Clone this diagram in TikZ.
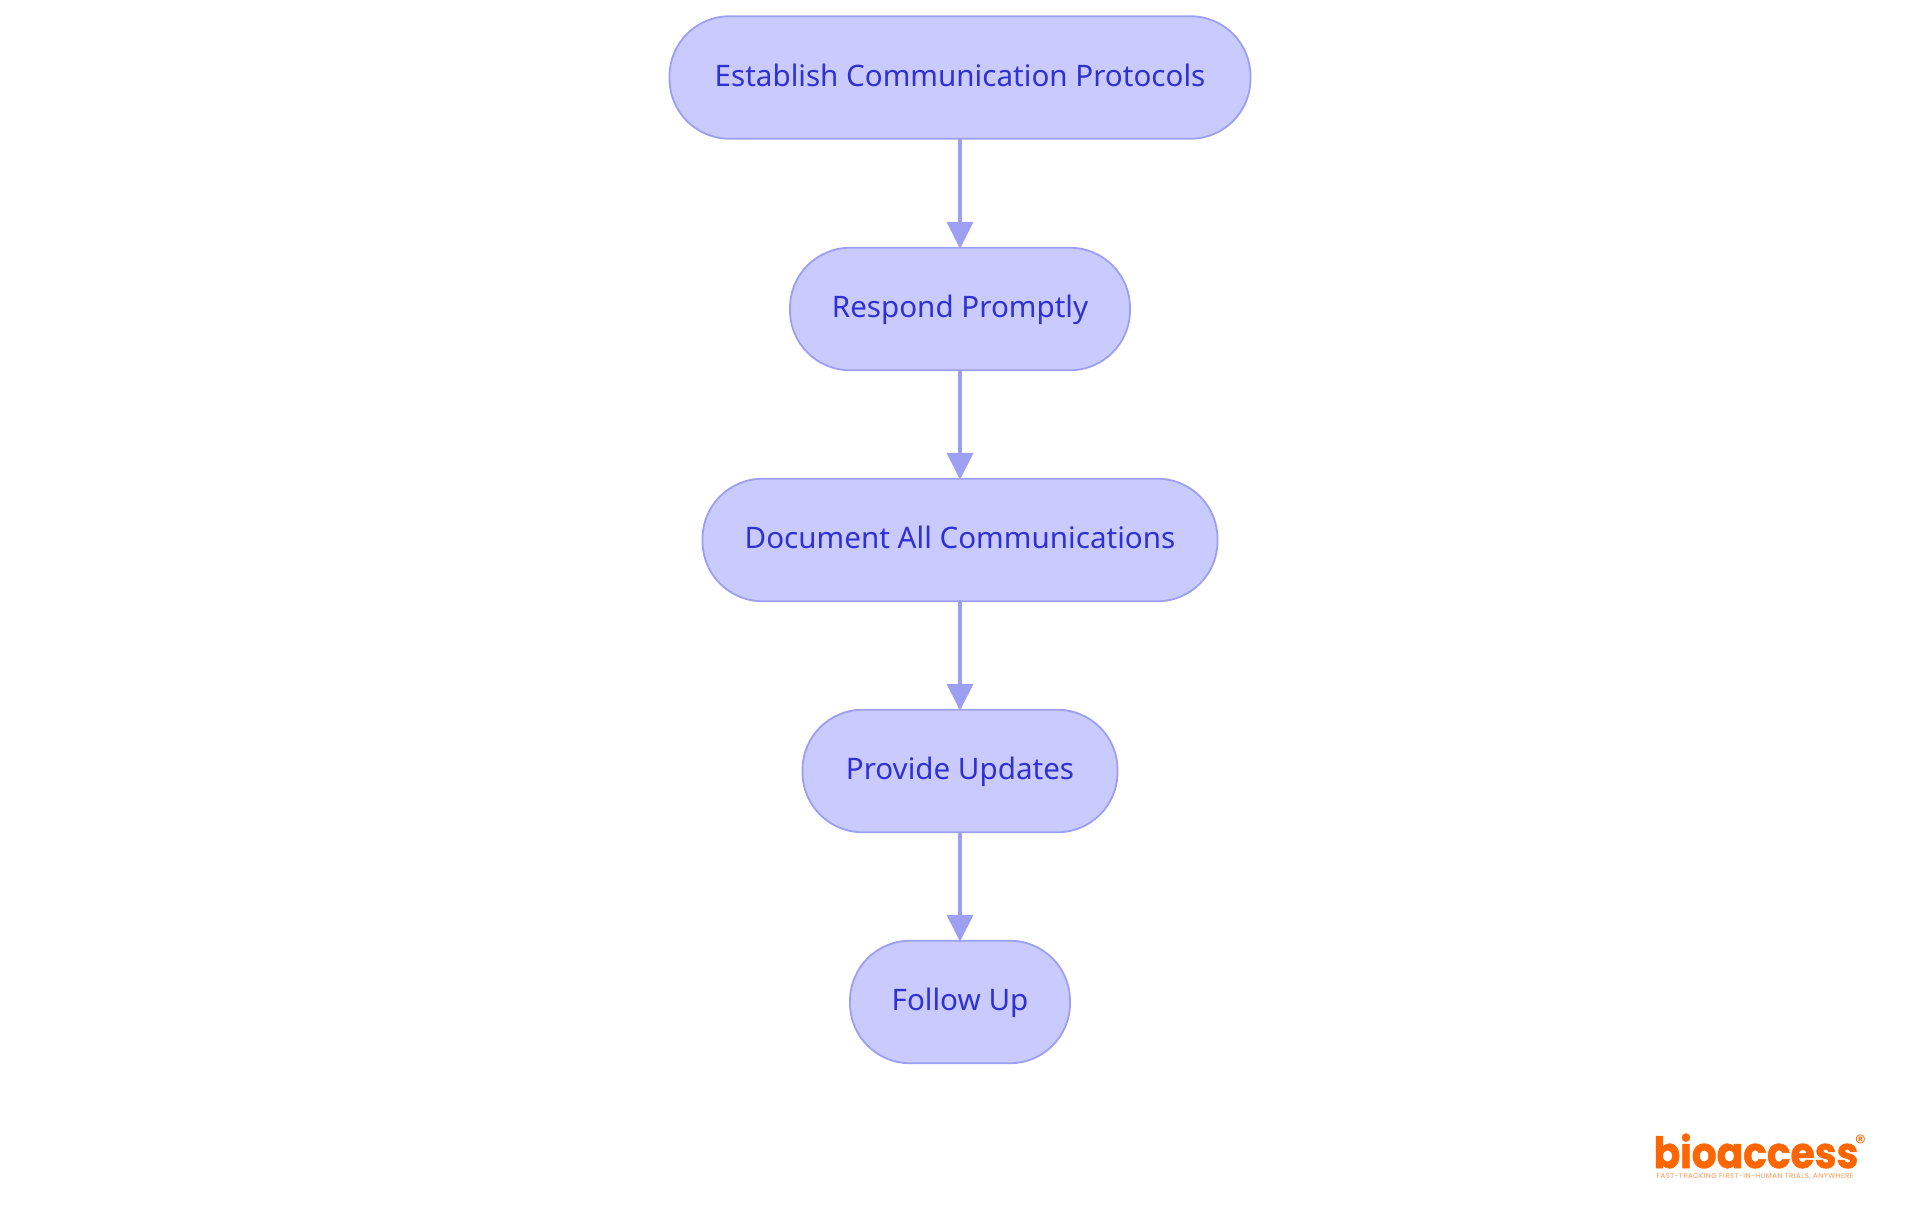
\documentclass[tikz,border=0pt]{standalone}
\usepackage{fontspec}
\setmainfont{Noto Sans}
\newfontfamily\logofont[BoldFeatures={FakeBold=1.2}]{Poppins}
\newfontfamily\taglinefont[LetterSpace=7]{Poppins}
\usetikzlibrary{arrows.meta}
\definecolor{boxfill}{HTML}{C9CAFE}
\definecolor{boxline}{HTML}{9D9FF2}
\definecolor{boxtext}{HTML}{3131D1}
\definecolor{logoorange}{HTML}{FF6600}
\tikzset{
  stepnode/.style={draw=boxline, fill=boxfill, text=boxtext, line width=1.8pt, rounded corners=60pt,
    minimum height=122.5pt, inner sep=0pt, outer sep=0pt, text height=24pt, text depth=7pt,
    font=\fontsize{29.6}{36}\selectfont},
  flow/.style={draw=boxline, line width=4pt, shorten >=-1pt, -{Triangle[length=27pt,width=26pt]}}
}
\begin{document}
\begin{tikzpicture}[x=1pt,y=1pt]
  \useasboundingbox (0,0) rectangle (1920,-1215);
  \node[stepnode, minimum width=581pt] (protocols) at (960,-77.5) {Establish Communication Protocols};
  \node[stepnode, minimum width=340pt] (respond) at (960,-309) {Respond Promptly};
  \node[stepnode, minimum width=515pt] (document) at (960,-540) {Document All Communications};
  \node[stepnode, minimum width=315pt] (updates) at (960,-771) {Provide Updates};
  \node[stepnode, minimum width=220pt] (followup) at (960,-1002) {Follow Up};
  \path[flow] (protocols) -- (respond);
  \path[flow] (respond) -- (document);
  \path[flow] (document) -- (updates);
  \path[flow] (updates) -- (followup);
  % logo
  \node[text=logoorange, inner sep=0pt, anchor=base, xscale=0.91, font=\logofont\bfseries\fontsize{43}{44}\selectfont] (logo) at (1756,-1168) {bioaccess};
  \node[text=logoorange, inner sep=0pt, font=\logofont\fontsize{22}{22}\selectfont] (reg) at (1860.5,-1142.5) {®};
  \node[text=logoorange!70, inner sep=0pt, font=\taglinefont\fontsize{7}{8}\selectfont] (tagline) at (1755,-1177) {FAST-TRACKING FIRST-IN-HUMAN TRIALS, ANYWHERE};
\end{tikzpicture}
\end{document}
